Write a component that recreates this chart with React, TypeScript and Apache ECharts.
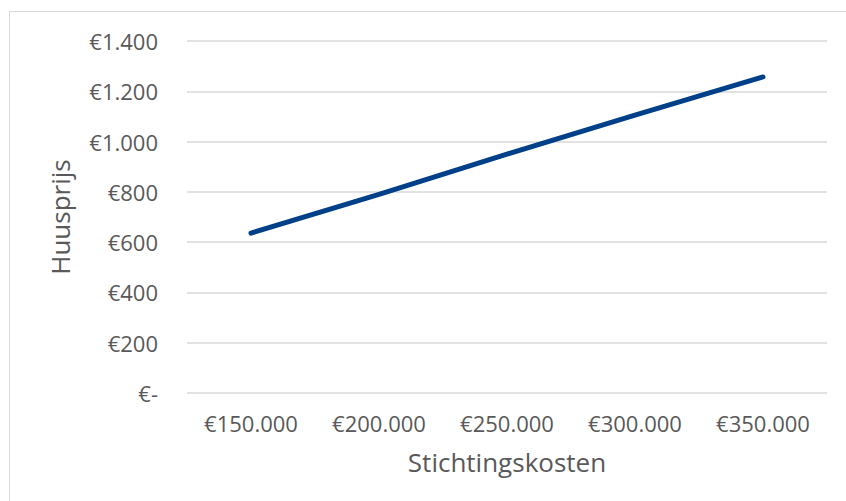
import React, { useEffect, useRef } from "react";
import * as echarts from "echarts";

const categories = ["€150.000", "€200.000", "€250.000", "€300.000", "€350.000"];
const huusprijs = [636, 790, 950, 1105, 1257];
const yTicks = [0, 200, 400, 600, 800, 1000, 1200, 1400];

const fmt = (v: number) => (v === 0 ? "€-" : "€" + v.toLocaleString("de-DE"));

export default function App() {
  const ref = useRef<HTMLDivElement>(null);
  useEffect(() => {
    const chart = echarts.init(ref.current!, null, { renderer: "svg" });
    chart.setOption({
      animation: false,
      backgroundColor: "#ffffff",
      textStyle: { fontFamily: "Open Sans" },
      graphic: [
        {
          type: "rect",
          shape: { x: 9.5, y: 11.5, width: 900, height: 600 },
          style: { fill: "none", stroke: "#d9d9d9", lineWidth: 1 },
          silent: true,
        },
      ],
      grid: { left: 187, right: 19, top: 41, bottom: 108 },
      xAxis: {
        type: "category",
        data: categories,
        boundaryGap: true,
        axisLine: { show: false },
        axisTick: { show: false },
        axisLabel: { color: "#595959", fontSize: 22, margin: 19, fontFamily: "Open Sans" },
        name: "Stichtingskosten",
        nameLocation: "middle",
        nameGap: 56,
        nameTextStyle: { color: "#595959", fontSize: 26, fontFamily: "Open Sans" },
      },
      yAxis: {
        type: "value",
        min: yTicks[0],
        max: yTicks[yTicks.length - 1],
        interval: 200,
        axisLine: { show: false },
        axisTick: { show: false },
        splitLine: { lineStyle: { color: "#d9d9d9", width: 1.5 } },
        axisLabel: { color: "#595959", fontSize: 22, margin: 29, formatter: fmt, fontFamily: "Open Sans" },
        name: "Huusprijs",
        nameLocation: "middle",
        nameGap: 114,
        nameRotate: 90,
        nameTextStyle: { color: "#595959", fontSize: 26, fontFamily: "Open Sans" },
      },
      series: [
        {
          type: "line",
          data: huusprijs,
          showSymbol: false,
          symbol: "none",
          lineStyle: { color: "#004088", width: 5, cap: "round", join: "round" },
        },
      ],
    });
    return () => chart.dispose();
  }, []);
  return <div ref={ref} style={{ width: 846, height: 501, position: "absolute", left: 0, top: 0 }} />;
}
